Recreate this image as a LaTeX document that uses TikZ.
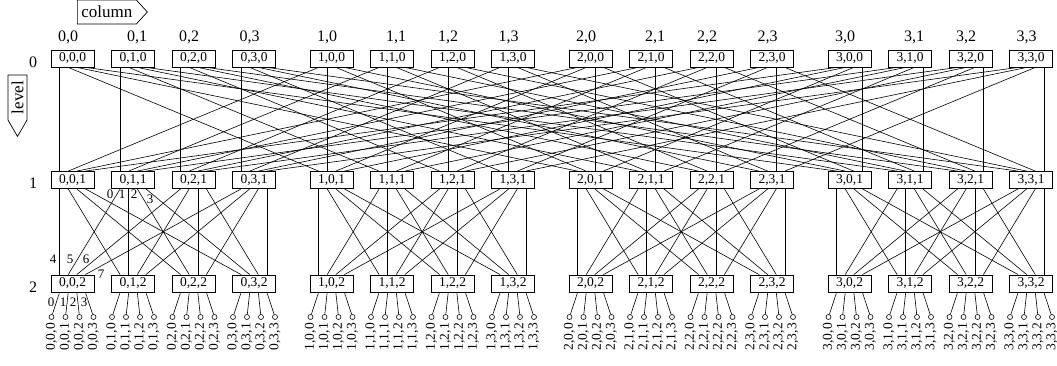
\documentclass[tikz,border=0pt]{standalone}
\usepackage{fontspec}
\setmainfont{Liberation Serif}
\usetikzlibrary{calc,shapes.symbols}
\begin{document}
\begin{tikzpicture}[x=1pt,y=-1pt,
  sw/.style={draw,line width=0.8pt,minimum width=43pt,minimum height=17pt,inner sep=0pt,font=\fontsize{13.5}{14}\selectfont},
  lnk/.style={line width=0.6pt},
  big/.style={font=\fontsize{16}{18}\selectfont,inner sep=0pt},
  portlbl/.style={font=\fontsize{13}{14}\selectfont,inner sep=0pt},
  leaf/.style={circle,draw,line width=0.6pt,minimum size=5pt,inner sep=0pt},
  leaflbl/.style={rotate=90,anchor=east,inner sep=0pt,font=\fontsize{13.5}{14}\selectfont},
  arrowbox/.style={draw,line width=0.7pt,signal,font=\fontsize{17}{18}\selectfont}]
\useasboundingbox (0,0) rectangle (1057,366);
% row labels
\node[big] (r0) at (33,62.5) {0};
\node[big] (r1) at (33,183) {1};
\node[big] (r2) at (33,287) {2};
% axis arrows
\node[arrowbox,signal to=east,signal pointer angle=95,minimum height=24pt,inner xsep=4pt,anchor=west] (colarrow) at (77,12) {column};
\node[arrowbox,signal to=west,signal pointer angle=60,rotate=90,minimum height=19pt,inner xsep=6pt] (levarrow) at (17.5,97.5) {level};
% switches, column labels, leaves
\foreach \g in {0,...,3}{
  \foreach \j in {0,...,3}{
    \pgfmathsetmacro\cx{72.5+259*\g+60.5*\j}
    \pgfmathsetmacro\lx{\cx+(\j==1 ? 4 : -4.5)}
    \node[big] (c\g\j) at (\lx,37.5) {\g,\j};
    \node[sw] (s\g\j0) at (\cx,58.5) {\g,\j,0};
    \node[sw] (s\g\j1) at (\cx,180) {\g,\j,1};
    \node[sw] (s\g\j2) at (\cx,283.5) {\g,\j,2};
    \foreach \k in {0,...,3}{
      \pgfmathsetmacro\fx{\cx-21+14*\k}
      \node[leaf] (l\g\j\k) at (\fx,317) {};
      \node[leaflbl] (t\g\j\k) at (\fx,323) {\g,\j,\k};
      \draw[lnk] ($(s\g\j2.south)+({8.6*(\k-1.5)},0)$) -- (l\g\j\k);
    }
  }
}
% links level 0 -> 1 and level 1 -> 2
\foreach \g in {0,...,3}{
  \foreach \j in {0,...,3}{
    \foreach \k in {0,...,3}{
      \draw[lnk] ($(s\g\j0.south)+({8.6*(\k-1.5)},0)$) -- ($(s\k\j1.north)+({8.6*(\g-1.5)},0)$);
      \draw[lnk] ($(s\g\j1.south)+({8.6*(\k-1.5)},0)$) -- ($(s\g\k2.north)+({8.6*(\j-1.5)},0)$);
    }
  }
}
% port labels
\node[portlbl] (pa0) at (110,194) {0};
\node[portlbl] (pa1) at (122,194) {1};
\node[portlbl] (pa2) at (134,194) {2};
\node[portlbl] (pa3) at (150,199) {3};
\node[portlbl] (pb4) at (53,259) {4};
\node[portlbl] (pb5) at (70,259) {5};
\node[portlbl] (pb6) at (86,259) {6};
\node[portlbl] (pb7) at (101,274) {7};
\node[portlbl] (pc0) at (51,302) {0};
\node[portlbl] (pc1) at (63,302) {1};
\node[portlbl] (pc2) at (73,302) {2};
\node[portlbl] (pc3) at (84,302) {3};
\end{tikzpicture}
\end{document}
